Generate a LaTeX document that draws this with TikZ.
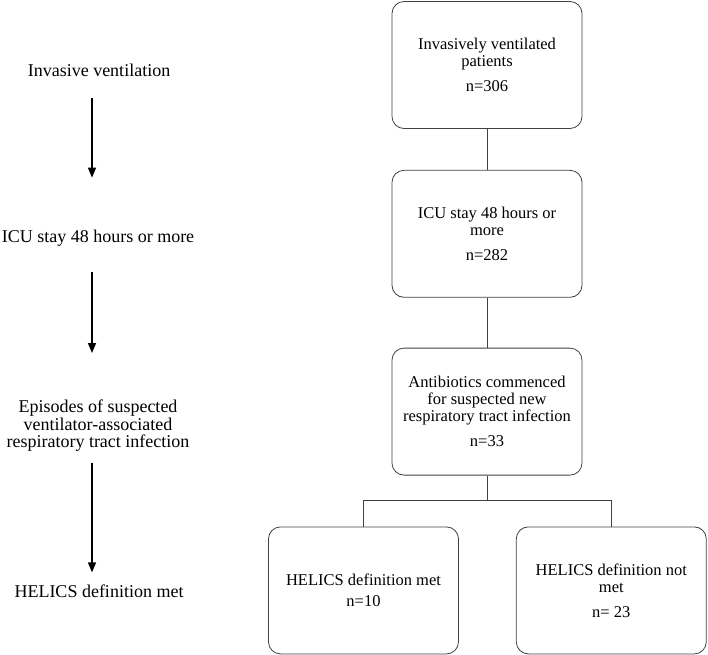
\documentclass[tikz,border=0pt]{standalone}
\usepackage{fontspec}
\setmainfont{Liberation Serif}
\usetikzlibrary{positioning,arrows.meta}

\tikzset{
  stage/.style={draw=black!75, line width=0.8pt, rounded corners=12pt,
    minimum width=190pt, minimum height=127pt, align=center, inner sep=2pt,
    font=\fontsize{16.5}{17}\selectfont},
  phase/.style={align=center, inner sep=0pt, font=\fontsize{18}{17.5}\selectfont},
  link/.style={draw=black!75, line width=0.8pt},
  flow/.style={draw=black, line width=1.5pt, -{Triangle[length=10pt,width=8pt]}}
}

\begin{document}
\begin{tikzpicture}[x=1pt,y=-1pt]
        \useasboundingbox (0,0) rectangle (708,654);
        % flow chart on the right
        \node[stage] (vent) at (487,65) {Invasively ventilated\\ patients\\[8pt] n=306};
        \node[stage, below=41pt of vent] (icu) {ICU stay 48 hours or\\ more\\[8pt] n=282};
        \node[stage, below=50pt of icu] (abx) {Antibiotics commenced\\ for suspected new\\ respiratory tract infection\\[8pt] n=33};
        \node[stage, below=51pt of abx, xshift=-123.5pt] (met) {HELICS definition met\\[4pt] n=10};
        \node[stage, right=57pt of met] (notmet) {HELICS definition not\\ met\\[8pt] n= 23};
        \draw[link] (vent) -- (icu);
        \draw[link] (icu) -- (abx);
        \draw[link] (abx.south) -- ++(0,25) -| (met.north);
        \draw[link] (abx.south) -- ++(0,25) -| (notmet.north);
        % phases on the left
        \coordinate (ax) at (92,0);
        \node[phase] (p1) at (99,70) {Invasive ventilation};
        \node[phase] (p2) at (98,238) {ICU stay 48 hours or more};
        \node[phase] (p3) at (98,426) {Episodes of suspected\\ ventilator-associated\\ respiratory tract infection};
        \node[phase] (p4) at (99,591) {HELICS definition met};
        \draw[flow] ([yshift=-21pt]p1.south -| ax) -- ([yshift=52pt]p2.north -| ax);
        \draw[flow] ([yshift=-26pt]p2.south -| ax) -- ([yshift=47pt]p3.north -| ax);
        \draw[flow] ([yshift=-11pt]p3.south -| ax) -- ([yshift=12pt]p4.north -| ax);
\end{tikzpicture}
\end{document}
